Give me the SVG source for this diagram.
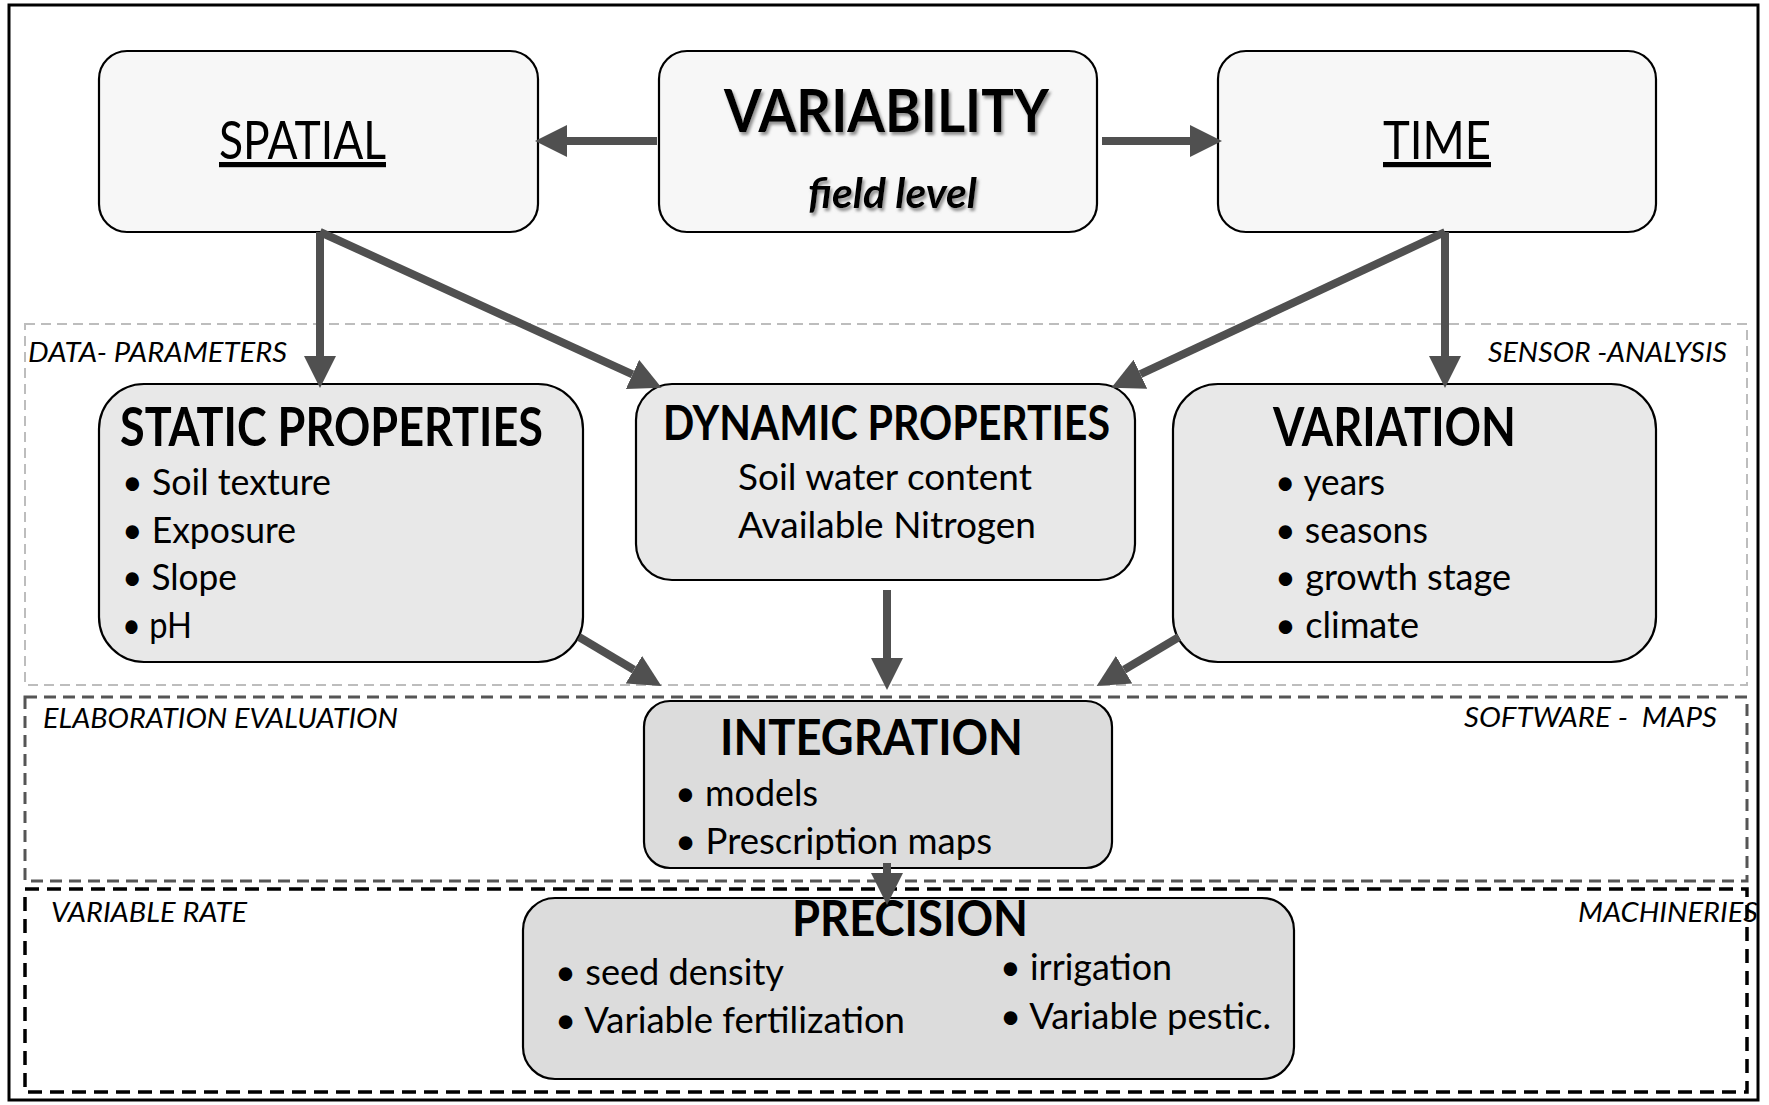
<svg xmlns="http://www.w3.org/2000/svg" width="1769" height="1105" viewBox="0 0 1769 1105">
<defs>
<style>
.t{font-family:Lato,"Open Sans","Liberation Sans",sans-serif;fill:#000}
.b{font-weight:bold}
.i{font-style:italic}
.box1{fill:#f7f7f7;stroke:#000;stroke-width:2.2}
.box2{fill:#e8e8e8;stroke:#000;stroke-width:2.2}
.box3{fill:#dcdcdc;stroke:#000;stroke-width:2.2}
.conn{stroke:#505050;stroke-width:8;fill:none;marker-end:url(#ah)}
.lbl{font-size:27px;font-style:italic}
.body{font-size:37px}
</style>
<marker id="ah" markerUnits="userSpaceOnUse" markerWidth="32" markerHeight="32" viewBox="0 -14 28 28" refX="0" refY="0" orient="auto">
<path d="M0,-14 L28,0 L0,14 z" fill="#505050"/>
</marker>
<filter id="sh" x="-10%" y="-20%" width="130%" height="150%">
<feDropShadow dx="2" dy="3" stdDeviation="1.5" flood-color="#777" flood-opacity="0.8"/>
</filter>
</defs>
<rect x="0" y="0" width="1769" height="1105" fill="#fff"/>
<rect x="9" y="5" width="1749" height="1095" fill="none" stroke="#000" stroke-width="3"/>

<g id="regions">
<rect x="25" y="324" width="1722" height="361" fill="none" stroke="#bdbdbd" stroke-width="2" stroke-dasharray="10 6"/>
<rect x="25" y="697" width="1722" height="184" fill="none" stroke="#555" stroke-width="3" stroke-dasharray="12 7"/>
<rect x="25" y="889" width="1722" height="203" fill="none" stroke="#000" stroke-width="3.5" stroke-dasharray="14 8"/>
<text class="t lbl" x="28" y="362" textLength="259" lengthAdjust="spacingAndGlyphs">DATA- PARAMETERS</text>
<text class="t lbl" x="1488" y="362" textLength="239" lengthAdjust="spacingAndGlyphs">SENSOR -ANALYSIS</text>
<text class="t lbl" x="43" y="728" textLength="355" lengthAdjust="spacingAndGlyphs">ELABORATION EVALUATION</text>
<text class="t lbl" x="1464" y="727" textLength="253" lengthAdjust="spacingAndGlyphs" xml:space="preserve">SOFTWARE -  MAPS</text>
<text class="t lbl" x="51" y="922" textLength="196" lengthAdjust="spacingAndGlyphs">VARIABLE RATE</text>
<text class="t lbl" x="1578" y="922" textLength="180" lengthAdjust="spacingAndGlyphs">MACHINERIES</text>
</g>

<g id="spatial">
<rect class="box1" x="99" y="51" width="439" height="181" rx="28"/>
<text class="t" x="219" y="159" font-size="52" textLength="167" lengthAdjust="spacingAndGlyphs" text-decoration="underline">SPATIAL</text>
</g>
<g id="variability">
<rect class="box1" x="659" y="51" width="438" height="181" rx="28"/>
<text class="t b" x="724" y="132" font-size="60" textLength="325" lengthAdjust="spacingAndGlyphs" filter="url(#sh)">VARIABILITY</text>
<text class="t b i" x="808" y="208" font-size="42" textLength="169" lengthAdjust="spacingAndGlyphs" filter="url(#sh)">field level</text>
</g>
<g id="time">
<rect class="box1" x="1218" y="51" width="438" height="181" rx="28"/>
<text class="t" x="1383" y="159" font-size="52" textLength="108" lengthAdjust="spacingAndGlyphs" text-decoration="underline">TIME</text>
</g>

<g id="static">
<rect class="box2" x="99" y="384" width="484" height="278" rx="45"/>
<text class="t b" x="120" y="446" font-size="53" textLength="423" lengthAdjust="spacingAndGlyphs">STATIC PROPERTIES</text>
<text class="t body" x="122" y="495" textLength="209" lengthAdjust="spacingAndGlyphs">• Soil texture</text>
<text class="t body" x="122" y="543" textLength="174" lengthAdjust="spacingAndGlyphs">• Exposure</text>
<text class="t body" x="122" y="590" textLength="115" lengthAdjust="spacingAndGlyphs">• Slope</text>
<text class="t body" x="122" y="638" textLength="70" lengthAdjust="spacingAndGlyphs">• pH</text>
</g>
<g id="dynamic">
<rect class="box2" x="636" y="384" width="499" height="196" rx="36"/>
<text class="t b" x="663" y="440" font-size="47" textLength="447" lengthAdjust="spacingAndGlyphs">DYNAMIC PROPERTIES</text>
<text class="t body" x="738" y="490" textLength="294" lengthAdjust="spacingAndGlyphs">Soil water content</text>
<text class="t body" x="738" y="538" textLength="298" lengthAdjust="spacingAndGlyphs">Available Nitrogen</text>
</g>
<g id="variation">
<rect class="box2" x="1173" y="384" width="483" height="278" rx="45"/>
<text class="t b" x="1273" y="446" font-size="53" textLength="243" lengthAdjust="spacingAndGlyphs">VARIATION</text>
<text class="t body" x="1275" y="495" textLength="110" lengthAdjust="spacingAndGlyphs">• years</text>
<text class="t body" x="1275" y="543" textLength="153" lengthAdjust="spacingAndGlyphs">• seasons</text>
<text class="t body" x="1275" y="590" textLength="236" lengthAdjust="spacingAndGlyphs">• growth stage</text>
<text class="t body" x="1275" y="638" textLength="144" lengthAdjust="spacingAndGlyphs">• climate</text>
</g>
<g id="integration">
<rect class="box3" x="644" y="701" width="468" height="167" rx="26"/>
<text class="t b" x="720" y="755" font-size="50" textLength="303" lengthAdjust="spacingAndGlyphs">INTEGRATION</text>
<text class="t body" x="675" y="806" textLength="143" lengthAdjust="spacingAndGlyphs">• models</text>
<text class="t body" x="675" y="854" textLength="317" lengthAdjust="spacingAndGlyphs">• Prescription maps</text>
</g>
<g id="precision">
<rect class="box3" x="523" y="898" width="771" height="181" rx="32"/>
<text class="t b" x="792" y="936" font-size="49" textLength="236" lengthAdjust="spacingAndGlyphs">PRECISION</text>
<text class="t body" x="555" y="985" textLength="229" lengthAdjust="spacingAndGlyphs">• seed density</text>
<text class="t body" x="555" y="1033" textLength="350" lengthAdjust="spacingAndGlyphs">• Variable fertilization</text>
<text class="t body" x="1000" y="980" textLength="172" lengthAdjust="spacingAndGlyphs">• irrigation</text>
<text class="t body" x="1000" y="1029" textLength="271" lengthAdjust="spacingAndGlyphs">• Variable pestic.</text>
</g>

<g id="connectors">
<line class="conn" x1="657" y1="141" x2="567" y2="141"/>
<line class="conn" x1="1102" y1="141" x2="1190" y2="141"/>
<line class="conn" x1="320" y1="232" x2="320" y2="356"/>
<line class="conn" x1="320" y1="232" x2="632.5" y2="374.4"/>
<line class="conn" x1="1445" y1="232" x2="1140.4" y2="374.2"/>
<line class="conn" x1="1445" y1="232" x2="1445" y2="356"/>
<line class="conn" x1="579" y1="637" x2="633.9" y2="669.7"/>
<line class="conn" x1="887" y1="590" x2="887" y2="658"/>
<line class="conn" x1="1179" y1="637" x2="1124.1" y2="669.7"/>
<line class="conn" x1="887" y1="863" x2="887" y2="873"/>
</g>
</svg>
